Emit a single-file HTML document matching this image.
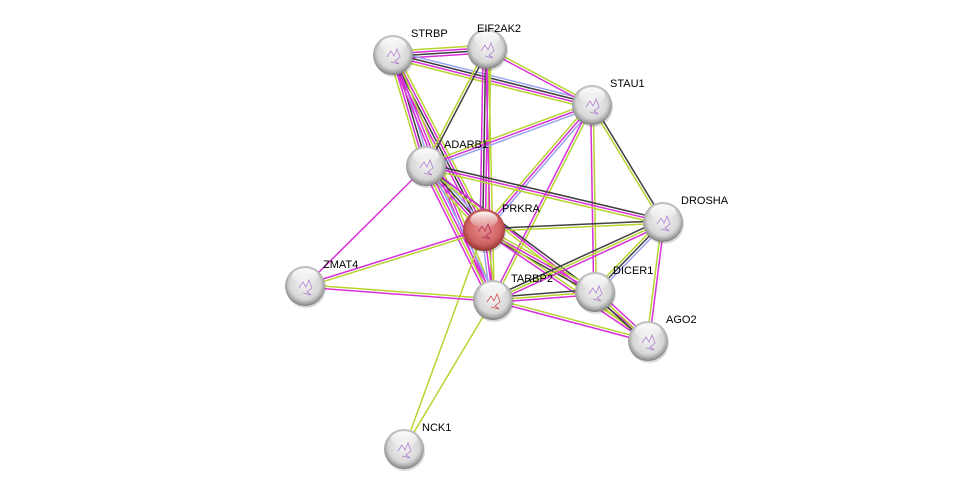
<!DOCTYPE html>
<html><head><meta charset="utf-8"><style>
html,body{margin:0;padding:0;background:#fff;}
svg{display:block;}
text{font-family:"Liberation Sans",sans-serif;font-size:11px;fill:#000;}
</style></head><body>
<svg id="s" width="976" height="493" viewBox="0 0 976 493" xmlns="http://www.w3.org/2000/svg">
<defs>
<radialGradient id="gg" cx="50%" cy="45%" r="55%">
<stop offset="0" stop-color="#f4f4f4"/><stop offset="0.7" stop-color="#d6d6d6"/><stop offset="0.92" stop-color="#9a9a9a"/><stop offset="1" stop-color="#777"/>
</radialGradient>
<radialGradient id="gr" cx="50%" cy="45%" r="55%">
<stop offset="0" stop-color="#e89090"/><stop offset="0.7" stop-color="#d06464"/><stop offset="0.92" stop-color="#a84040"/><stop offset="1" stop-color="#803030"/>
</radialGradient>
<linearGradient id="hl" x1="0" y1="0" x2="0" y2="1">
<stop offset="0" stop-color="#fff" stop-opacity="0.95"/><stop offset="1" stop-color="#fff" stop-opacity="0.1"/>
</linearGradient>
</defs>
<g id="edges"></g>
<g id="nodes"></g>
</svg>
<script>
var N={STRBP:[393,55],EIF2AK2:[487,49],STAU1:[592,105],ADARB1:[426,166],PRKRA:[484,230],DROSHA:[663,222],ZMAT4:[305,286],TARBP2:[493,300],DICER1:[595,292],AGO2:[648,341],NCK1:[404,449]};
var LO={EIF2AK2:[-10,-17]};
var C={g:"#b8d430",m:"#d830d8",k:"#404040",b:"#98a4f0"};
var E=[["STRBP","EIF2AK2","gmkm"],["STRBP","STAU1","bkmg"],["STRBP","ADARB1","bkmg"],["STRBP","PRKRA","gmkm"],["STRBP","TARBP2","gmm"],
["EIF2AK2","STAU1","gm"],["EIF2AK2","ADARB1","kg"],["EIF2AK2","PRKRA","gmkm"],["EIF2AK2","TARBP2","gm"],
["STAU1","ADARB1","bmg"],["STAU1","PRKRA","bmg"],["STAU1","DROSHA","kg"],["STAU1","TARBP2","gm"],["STAU1","DICER1","gm"],
["ADARB1","PRKRA","bkmg"],["ADARB1","DROSHA","kmg"],["ADARB1","TARBP2","bmgm"],["ADARB1","ZMAT4","m"],["ADARB1","DICER1","k"],["ADARB1","AGO2","mg"],
["PRKRA","DROSHA","kg"],["PRKRA","DICER1","gmk"],["PRKRA","AGO2","gm"],["PRKRA","TARBP2","gmb"],["PRKRA","ZMAT4","gm"],["PRKRA","NCK1","g"],
["TARBP2","NCK1","g"],["TARBP2","ZMAT4","mg"],["TARBP2","DICER1","kgm"],["TARBP2","DROSHA","kgm"],["TARBP2","AGO2","gm"],
["DROSHA","DICER1","bkg"],["DROSHA","AGO2","mg"],["DICER1","AGO2","mgk"]];
var ns="http://www.w3.org/2000/svg",eg=document.getElementById("edges"),ng=document.getElementById("nodes");
E.forEach(function(e){var a=N[e[0]],b=N[e[1]],dx=b[0]-a[0],dy=b[1]-a[1],L=Math.hypot(dx,dy),px=-dy/L,py=dx/L,n=e[2].length;
for(var i=0;i<n;i++){var o=(i-(n-1)/2)*2.6;var l=document.createElementNS(ns,"line");
l.setAttribute("x1",a[0]+px*o);l.setAttribute("y1",a[1]+py*o);l.setAttribute("x2",b[0]+px*o);l.setAttribute("y2",b[1]+py*o);
l.setAttribute("stroke",C[e[2][i]]);l.setAttribute("stroke-width","1.5");eg.appendChild(l);}});
for(var k in N){var p=N[k],r=k=="PRKRA"?21:20;
var sh=document.createElementNS(ns,"circle");sh.setAttribute("cx",p[0]+1);sh.setAttribute("cy",p[1]+2);sh.setAttribute("r",r);sh.setAttribute("fill","#000");sh.setAttribute("opacity","0.15");ng.appendChild(sh);
var c=document.createElementNS(ns,"circle");c.setAttribute("cx",p[0]);c.setAttribute("cy",p[1]);c.setAttribute("r",r);c.setAttribute("fill",k=="PRKRA"?"url(#gr)":"url(#gg)");ng.appendChild(c);
var h=document.createElementNS(ns,"ellipse");h.setAttribute("cx",p[0]);h.setAttribute("cy",p[1]-r*0.5);h.setAttribute("rx",r*0.65);h.setAttribute("ry",r*0.38);h.setAttribute("fill","url(#hl)");ng.appendChild(h);
var g=document.createElementNS(ns,"path");var x=p[0],y=p[1];g.setAttribute("d","M"+(x-6)+" "+(y+2)+" l4 -6 l3 5 l3 -7 l3 8 l-5 4 l4 3 l-8 -2");g.setAttribute("fill","none");g.setAttribute("stroke",k=="PRKRA"?"#b03060":(k=="TARBP2"?"#d05050":"#b080d0"));g.setAttribute("stroke-width","0.8");ng.appendChild(g);
var off=LO[k]||[18,-18];
var t=document.createElementNS(ns,"text");t.setAttribute("x",p[0]+off[0]);t.setAttribute("y",p[1]+off[1]);t.textContent=k;ng.appendChild(t);}
</script>
</body></html>
